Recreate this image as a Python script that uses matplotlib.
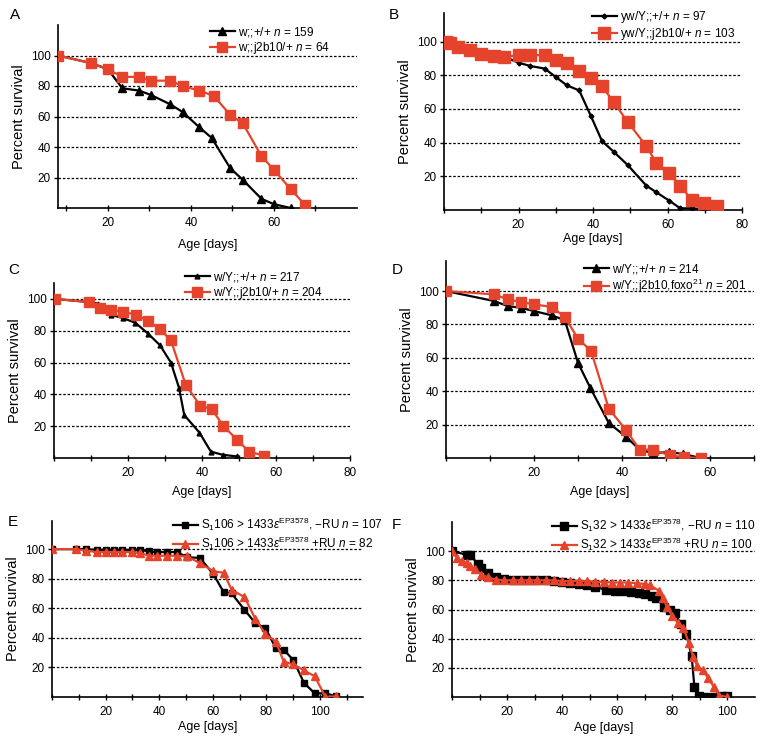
import matplotlib
matplotlib.use("Agg")
import matplotlib.pyplot as plt

plt.rcParams['font.family'] = ['Liberation Sans', 'DejaVu Sans']
plt.rcParams['mathtext.fontset'] = 'custom'
plt.rcParams['mathtext.rm'] = 'Liberation Sans'
plt.rcParams['mathtext.it'] = 'Liberation Sans:italic'

# ---- data (age in days, percent survival) ----
a_days_black = [8, 16, 20, 23.5, 27.5, 30.5, 35, 38, 42, 45, 49.5, 52.5, 57, 60, 64]
a_surv_black = [100, 95, 91, 78.5, 77, 74, 68, 63, 53, 46, 26, 18.5, 6, 2.5, 0]
a_days_red = [8, 16, 20, 23.5, 27.5, 30.5, 35, 38, 42, 45.5, 49.5, 52.5, 57, 60, 64, 67.5]
a_surv_red = [100, 95, 91, 86, 86, 83.5, 83.5, 80, 77, 73.5, 61, 55.5, 34, 25, 12.5, 2]

b_days = [0.6, 1.5, 3.8, 7, 10, 13.3, 16.2, 20, 23.2, 27, 30, 33, 36.3, 39.4, 42.4,
          45.6, 49.4, 54.3, 57, 60.5, 63.4, 66.5, 69.7, 73.3]
b_surv_black = [100, 99, 98, 94, 92.5, 91.5, 91, 87.5, 85.5, 84, 79, 74, 71, 56, 41,
                34.5, 26.5, 14.5, 10.5, 5.5, 1, 1, 0.5, 0]
b_surv_red = [100, 99, 97, 95, 92.5, 91.5, 91, 92, 92, 92, 89, 87.5, 82.5, 78.5, 73.5,
              64, 52, 38, 28, 22, 14.5, 6, 4, 2.5]

c_days_black = [0.4, 9.4, 12, 15.4, 18.6, 22, 25.5, 28.6, 31.6, 33.8, 35.2, 39.3, 42.4, 45.6, 49.4]
c_surv_black = [100, 98, 97, 90, 88, 85, 78, 71, 60, 44, 27, 16, 4, 2, 1]
c_days_red = [0.4, 9.4, 12.5, 15.4, 18.6, 22.2, 25.5, 28.6, 31.6, 35.6, 39.5, 42.7, 45.8, 49.5, 52.7, 56.7]
c_surv_red = [100, 98, 94, 93, 92, 90, 86, 81, 74, 46, 33, 30.5, 20, 11.5, 4, 1.5]

d_days_black = [0, 11, 14, 17, 20, 24, 27, 30, 32.8, 37, 41, 44, 47, 50.6, 53.8, 57.8]
d_surv_black = [100, 94, 91, 90, 88, 85.5, 82.5, 57, 42, 21, 12.5, 5, 3, 3.5, 2.5, 0]
d_days_red = [0, 11, 14, 17, 20, 24, 27, 30, 33, 37, 41, 44, 47, 51, 54, 58]
d_surv_red = [100, 98, 95, 93.5, 92, 90.5, 84.5, 71.5, 64, 29.5, 16.5, 5, 5, 1.5, 0.5, 0]

e_days = [0, 9, 12.6, 16.6, 20, 23, 26, 29.7, 32.8, 36, 39, 42.8, 46.5, 50.5, 55.2,
          60.2, 64, 67, 71.8, 75.8, 79.6, 83.5, 86.4, 90, 94, 98, 102, 106]
e_surv_black = [100, 100, 100, 99.5, 99.5, 99.5, 99.5, 99.5, 99.5, 98.5, 98, 98, 98, 94.5, 94,
                83, 71, 70, 59, 50, 46.5, 33, 32, 25, 9.5, 2.5, 2.5, 0.5]
e_surv_red = [100, 100, 99, 98, 98, 98, 98, 98, 97.5, 95.5, 95.5, 95.5, 95.5, 95, 90.5,
              85, 84, 72.5, 67.5, 53, 42.5, 37.5, 24, 22, 18, 14, 0, 0.5]

f_days_black = [0, 5.5, 6.5, 9.5, 10.7, 13, 16, 19, 22, 25, 28, 31, 34, 37, 40, 43, 46, 49,
                52, 56, 59, 62, 65, 68, 70, 72.5, 74, 77, 79, 81, 83, 85, 87, 88, 89.5, 92,
                95, 98, 100]
f_surv_black = [100, 97.5, 97.5, 91, 88.5, 85, 82.5, 81, 80.5, 80, 80, 80, 80, 79.5, 79, 78,
                77.5, 76.5, 75.5, 73.5, 73, 72.5, 72, 71, 70.5, 69.5, 68, 62, 60, 57.5, 50,
                43.5, 28, 7, 0.5, 0, 0, 0.5, 0.5]
f_days_red = [0, 1.7, 3.5, 5.3, 6.5, 8.3, 10.7, 13, 16, 19, 22, 25, 28, 31, 34, 37, 40, 43,
              46, 49, 52, 55, 58, 61, 64, 67, 70, 72, 75, 76.5, 78, 80, 82, 84, 86, 87.5,
              89, 91, 93, 95, 97, 100]
f_surv_red = [100, 95.5, 93, 92, 90, 87.5, 84, 82, 80.5, 80, 80, 80, 80, 80, 80, 80, 79.5,
              79.5, 79.5, 79.5, 79, 79, 78.5, 78.5, 78.5, 78, 77.5, 76.5, 73, 68, 62, 55.5,
              51, 47.5, 37, 27.5, 21.5, 18.5, 13, 7, 1, 0]

a_labels = [r'w;;+/+ $\it{n}$ = 159', r'w;;j2b10/+ $\it{n}$ = 64']
b_labels = [r'yw/Y;;+/+ $\it{n}$ = 97', r'yw/Y;;j2b10/+ $\it{n}$ = 103']
c_labels = [r'w/Y;;+/+ $\it{n}$ = 217', r'w/Y;;j2b10/+ $\it{n}$ = 204']
d_labels = [r'w/Y;;+/+ $\it{n}$ = 214', r'w/Y;;j2b10,foxo$^{21}$ $\it{n}$ = 201']
e_labels = [r'S$_1$106 > 1433$\varepsilon^{\mathrm{EP3578}}$, $-$RU $\it{n}$ = 107',
            r'S$_1$106 > 1433$\varepsilon^{\mathrm{EP3578}}$ +RU $\it{n}$ = 82']
f_labels = [r'S$_1$32 > 1433$\varepsilon^{\mathrm{EP3578}}$, $-$RU $\it{n}$ = 110',
            r'S$_1$32 > 1433$\varepsilon^{\mathrm{EP3578}}$ +RU $\it{n}$ = 100']

RED = '#e5432b'
W, H = 764, 742

fig = plt.figure(figsize=(W / 100, H / 100), dpi=100)


def panel(letter, box, letter_xy, xlim, ytop, xticks, black, red, labels, leg_xy, xlab_off):
    left, right, top, bottom = box
    ax = fig.add_axes([left / W, 1 - bottom / H, (right - left) / W, (bottom - top) / H])
    bx, by, bm, bms = black
    rx, ry, rm, rms = red
    ax.plot(bx, by, color='black', marker=bm, ms=bms, lw=1.6, label=labels[0], zorder=3)
    ax.plot(rx, ry, color=RED, marker=rm, ms=rms, lw=1.6, label=labels[1], zorder=4)
    ax.set_xlim(*xlim)
    ax.set_ylim(0, ytop)
    ax.set_yticks([20, 40, 60, 80, 100])
    ax.set_xticks(xticks)
    ax.set_xticklabels([str(t) if t % 20 == 0 and t > 0 else '' for t in xticks])
    ax.yaxis.grid(True, linestyle=(0, (2, 1.5)), color='black', lw=0.9)
    ax.set_axisbelow(True)
    for s in ['top', 'right']:
        ax.spines[s].set_visible(False)
    for s in ['left', 'bottom']:
        ax.spines[s].set_linewidth(1.2)
    ax.tick_params(axis='x', direction='inout', length=5, width=1, labelsize=8.5, pad=4)
    ax.tick_params(axis='y', direction='out', length=3, width=1, labelsize=8.5, pad=2)
    ax.set_ylabel('Percent survival', fontsize=10.5, labelpad=4)
    ax.set_xlabel('Age [days]', fontsize=9)
    ax.xaxis.set_label_coords(0.5, -xlab_off / (bottom - top))
    ax.legend(loc='upper left', bbox_to_anchor=(leg_xy[0] / W, 1 - leg_xy[1] / H),
              bbox_transform=fig.transFigure, frameon=False, fontsize=8.5,
              borderpad=0, borderaxespad=0, labelspacing=0.1, handlelength=2.1,
              handletextpad=0.3)
    fig.text(letter_xy[0] / W, 1 - letter_xy[1] / H, letter, fontsize=11,
             ha='left', va='center')
    return ax


panel('A', (58, 357, 25, 208), (10, 15), (8, 80), 120, list(range(10, 80, 10)),
      (a_days_black, a_surv_black, '^', 6), (a_days_red, a_surv_red, 's', 7),
      a_labels, (210, 25), 31)
panel('B', (444, 742, 13, 210), (389, 15), (0, 80), 117, list(range(0, 90, 10)),
      (b_days, b_surv_black, 'D', 2.5), (b_days, b_surv_red, 's', 8),
      b_labels, (592, 9), 23)
panel('C', (54, 350, 283, 458), (8, 270), (0, 80), 110, list(range(0, 90, 10)),
      (c_days_black, c_surv_black, '^', 3.5), (c_days_red, c_surv_red, 's', 7.5),
      c_labels, (185, 270), 28)
panel('D', (446, 754, 261, 458), (392, 270), (0, 70), 118, list(range(0, 80, 10)),
      (d_days_black, d_surv_black, '^', 5.5), (d_days_red, d_surv_red, 's', 7),
      d_labels, (584, 262), 28)
panel('E', (52, 363, 521, 697), (8, 522), (0, 116), 119, list(range(0, 120, 10)),
      (e_days, e_surv_black, 's', 5), (e_days, e_surv_red, '^', 5.5),
      e_labels, (173, 516), 24)
panel('F', (452, 755, 522, 697), (392, 525), (0, 110), 120, list(range(0, 110, 10)),
      (f_days_black, f_surv_black, 's', 5.5), (f_days_red, f_surv_red, '^', 5.5),
      f_labels, (552, 517), 25)

fig.savefig('out.png', dpi=100)
